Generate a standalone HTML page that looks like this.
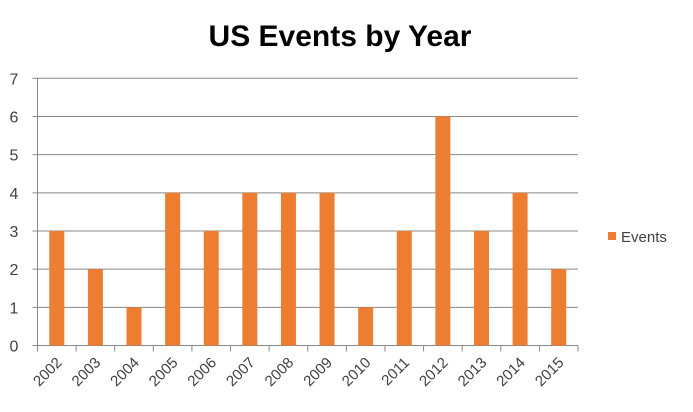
<!DOCTYPE html>
<html><head><meta charset="utf-8"><style>
body{margin:0;background:#fff;}
svg{display:block;font-family:"Liberation Sans",Arial,sans-serif;}
</style></head><body>
<svg id="chart" width="693" height="412">
<text x="340" y="46" text-anchor="middle" font-size="30" font-weight="bold" fill="#000">US Events by Year</text>
<g id="grid"></g><g id="bars"></g><g id="axes"></g>
<g>
<rect x="608" y="232" width="8" height="8" fill="#ED7D31"/>
<text x="621" y="242" font-size="15" fill="#404040">Events</text>
</g>
</svg>
<script>
const categories=["2002","2003","2004","2005","2006","2007","2008","2009","2010","2011","2012","2013","2014","2015"];
const values=[3,2,1,4,3,4,4,4,1,3,6,3,4,2];
const yTicks=[0,1,2,3,4,5,6,7];
const NS="http://www.w3.org/2000/svg";
const x0=37.5,x1=578,y0=345.5,y1=78.3,yMax=7;
const cw=(x1-x0)/categories.length;
const y=v=>y0-(v/yMax)*(y0-y1);
const xc=i=>x0+cw*(i+0.5);
function mk(t,a,p){const e=document.createElementNS(NS,t);for(const k in a)e.setAttribute(k,a[k]);p.appendChild(e);return e;}
const grid=document.getElementById('grid'),bars=document.getElementById('bars'),axes=document.getElementById('axes');
yTicks.forEach(v=>{
 const l=mk('line',{x1:x0-5,x2:x1,y1:y(v),y2:y(v),stroke:'#888','stroke-width':1},grid);
 
 
 const t=mk('text',{x:14,y:y(v)+6,'text-anchor':'middle','font-size':16,fill:'#404040'},axes);
 t.textContent=v;
 
 
});
const ax=mk('line',{x1:x0,x2:x0,y1:y1,y2:y0,stroke:'#888'},axes);


categories.forEach((c,i)=>{
 const r=mk('rect',{x:xc(i)-7.5,y:y(values[i]),width:15,height:y0-y(values[i]),fill:'#ED7D31'},bars);
 
 
 const tk=mk('line',{x1:x0+cw*i,x2:x0+cw*i,y1:y0,y2:y0+6,stroke:'#888'},axes);
 
 
 const tx=xc(i)+6,ty=y0+18;
 const t=mk('text',{x:tx,y:ty,'text-anchor':'end','font-size':15,fill:'#404040',transform:`rotate(-45 ${tx} ${ty})`},axes);
 t.textContent=c;
 
 
});
const tk=mk('line',{x1:x1,x2:x1,y1:y0,y2:y0+6,stroke:'#888'},axes);


</script>
</body></html>
